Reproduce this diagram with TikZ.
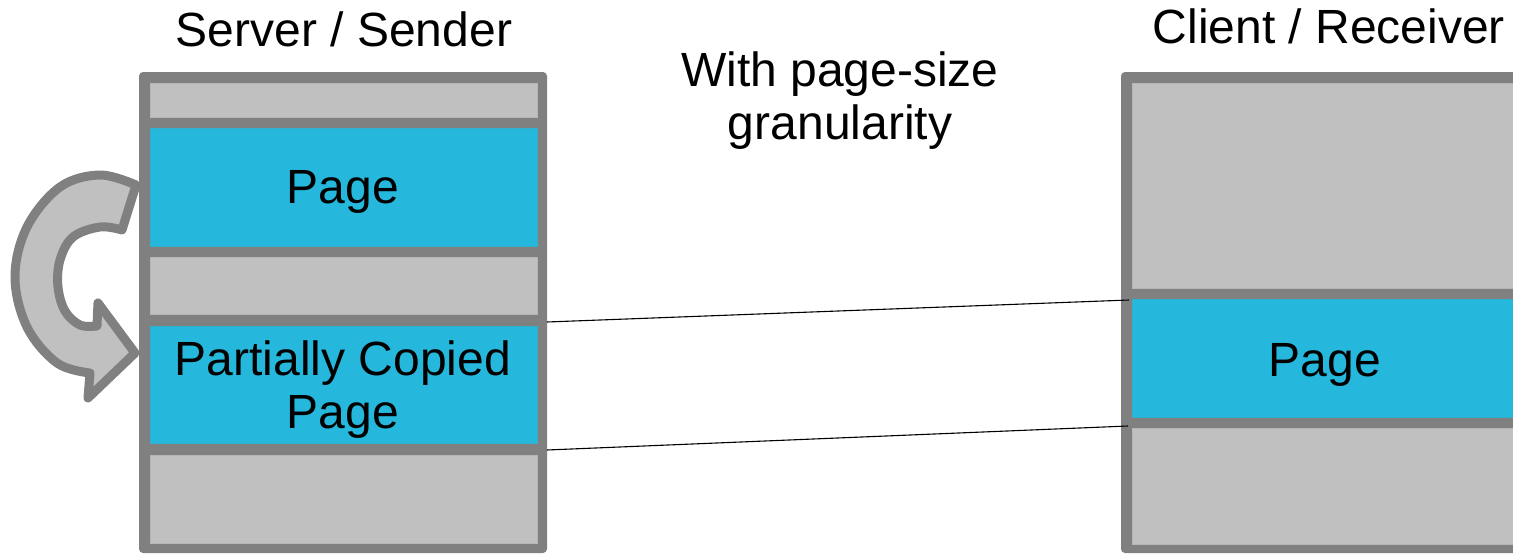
\documentclass[tikz,border=0pt]{standalone}
\usepackage{fontspec}
\setmainfont{Liberation Sans}
\definecolor{bord}{HTML}{808080}
\definecolor{cellgray}{HTML}{C0C0C0}
\definecolor{pageblue}{HTML}{25B7DC}
\begin{document}
\begin{tikzpicture}[x=1pt,y=-1pt,
  every node/.style={font=\fontsize{48}{53}\selectfont, text=black},
  frame/.style={fill=bord, rounded corners=4pt},
  cellbox/.style={draw=#1!85!bord, line width=0.8pt, fill=#1, inner sep=0pt, outer sep=0pt, anchor=north west},
  link/.style={draw=black, line width=1.1pt},
  turn/.style={fill=cellgray, draw=bord, line width=9pt, line join=round}]
\useasboundingbox (0,0) rectangle (1513,554);
\clip (0,0) rectangle (1513,554);

% Server / Sender
\path[frame] (139,72) rectangle (547,553);
\node[cellbox=cellgray, minimum width=387pt, minimum height=34pt]  (s1) at (150,83)  {};
\node[cellbox=pageblue, minimum width=387pt, minimum height=118pt] (s2) at (150,128) {};
\node[cellbox=cellgray, minimum width=387pt, minimum height=57pt]  (s3) at (150,257) {};
\node[cellbox=pageblue, minimum width=387pt, minimum height=117pt] (s4) at (150,326) {};
\node[cellbox=cellgray, minimum width=387pt, minimum height=88pt]  (s5) at (150,455) {};

% Client / Receiver
\path[frame] (1121,72) rectangle (1540,553);
\node[cellbox=cellgray, minimum width=400pt, minimum height=205pt] (c1) at (1132,83)  {};
\node[cellbox=pageblue, minimum width=400pt, minimum height=118pt] (c2) at (1132,299) {};
\node[cellbox=cellgray, minimum width=400pt, minimum height=116pt] (c3) at (1132,428) {};

% texts
\node[anchor=base] (tS) at (344,46) {Server / Sender};
\node[anchor=base] (tC) at (1329,43) {Client / Receiver};
\node[align=center] (gran) at (840,101) {With page-size\\granularity};
\node[anchor=base] (p1) at (343,203) {Page};
\node[align=center] (p2) at (343,390) {Partially Copied\\Page};
\node[anchor=base] (p3) at (1325,376) {Page};

% connectors
\coordinate (su) at (547,322);
\coordinate (cu) at (1129,300);
\coordinate (sl) at (547,450);
\coordinate (cl) at (1128,426);
\draw[link] (su) -- (cu);
\draw[link] (sl) -- (cl);

% curved arrow
\draw[turn] plot[smooth, tension=0.6] coordinates {(136,185) (100,175) (60,187) (27,227) (15,277) (27,327) (57,363) (90,373)}
  -- (88,398) -- (135,353) -- (98,303) -- (97,326)
  -- plot[smooth, tension=0.6] coordinates {(97,326) (80,325) (65,311) (58,287) (60,260) (73,237) (100,227) (122,230)}
  -- cycle;
\end{tikzpicture}
\end{document}
